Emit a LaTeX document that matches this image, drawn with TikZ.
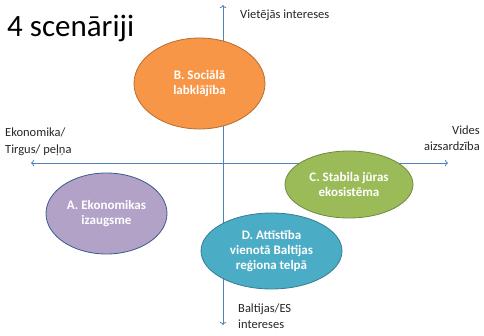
\documentclass[tikz,border=0pt]{standalone}
\usepackage{fontspec}
\setmainfont{Carlito}
\usetikzlibrary{shapes.geometric, arrows.meta}

\definecolor{axisblue}{HTML}{4F81BD}
\definecolor{orangefill}{HTML}{F79646}
\definecolor{orangeline}{HTML}{B66D31}
\definecolor{purplefill}{HTML}{B3A2C7}
\definecolor{purpleline}{HTML}{385D8A}
\definecolor{greenfill}{HTML}{9BBB59}
\definecolor{greenline}{HTML}{71893F}
\definecolor{tealfill}{HTML}{4BACC6}
\definecolor{tealline}{HTML}{357D91}

\tikzset{
  scenario/.style={ellipse, draw, line width=0.8pt, inner sep=0pt, align=center,
    text=white, font=\fontsize{13}{15}\selectfont\bfseries},
  axislabel/.style={inner sep=0pt, text=black!85, font=\fontsize{12.5}{16.5}\selectfont}
}

\begin{document}
\begin{tikzpicture}[x=1pt, y=-1pt]
    \useasboundingbox (0,0) rectangle (484,336);
    \node[anchor=west, inner sep=0pt, font=\fontsize{31}{33}\selectfont] (title) at (7,28) {4 scenāriji};
    % axes
    \coordinate (L) at (31,163);
    \coordinate (R) at (448,163);
    \coordinate (T) at (223,5);
    \coordinate (Bt) at (223,325);
    \draw[{To[length=3pt]}-{To[length=3pt]}, axisblue, line width=0.8pt] (L) -- (R);
    \draw[{To[length=3pt]}-{To[length=3pt]}, axisblue, line width=0.8pt] (T) -- (Bt);
    \node[axislabel, anchor=west] (north) at (240,15) {Vietējās intereses};
    \node[axislabel, anchor=west, align=left] (west) at (5,142) {Ekonomika/\\Tirgus/ peļņa};
    \node[axislabel, anchor=east, align=right] (east) at (480,138) {Vides\\aizsardzība};
    \node[axislabel, anchor=west, align=left] (south) at (238,316) {Baltijas/ES\\intereses};
    % scenarios
    \node[scenario, fill=orangefill, draw=orangeline, minimum width=131pt, minimum height=91pt] (B) at (199.5,83.5) {B. Sociālā\\labklājība};
    \node[scenario, fill=purplefill, draw=purpleline, minimum width=121pt, minimum height=81pt] (A) at (106.5,213.5) {A. Ekonomikas\\izaugsme};
    \node[scenario, fill=greenfill, draw=greenline, minimum width=128pt, minimum height=67pt] (C) at (349,184.5) {C. Stabila jūras\\ekosistēma};
    \node[scenario, fill=tealfill, draw=tealline, minimum width=141pt, minimum height=76pt] (D) at (271.5,251) {D. Attīstība\\vienotā Baltijas\\reģiona telpā};
\end{tikzpicture}
\end{document}
